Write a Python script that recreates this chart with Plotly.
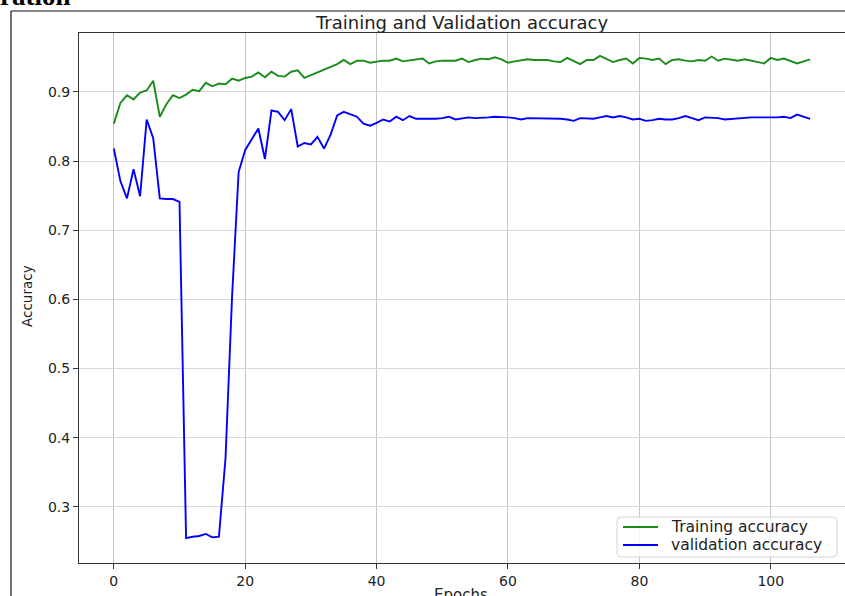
import plotly.graph_objects as go

# Per-epoch accuracy history of the training run
epochs = list(range(107))

train_acc = [
    0.854, 0.884, 0.895, 0.889, 0.899, 0.902, 0.916, 0.864, 0.882, 0.895,
    0.891, 0.896, 0.903, 0.901, 0.913, 0.908, 0.912, 0.911, 0.919, 0.916,
    0.920, 0.922, 0.928, 0.921, 0.929, 0.923, 0.922, 0.929, 0.931, 0.920,
    0.924, 0.928, 0.931, 0.936, 0.940, 0.946, 0.940, 0.945, 0.945, 0.942,
    0.944, 0.945, 0.945, 0.948, 0.944, 0.945, 0.946, 0.948, 0.941, 0.944,
    0.945, 0.945, 0.945, 0.948, 0.943, 0.946, 0.948, 0.947, 0.950, 0.947,
    0.942, 0.944, 0.945, 0.947, 0.946, 0.946, 0.946, 0.944, 0.943, 0.949,
    0.944, 0.940, 0.946, 0.946, 0.952, 0.947, 0.943, 0.946, 0.948, 0.941,
    0.949, 0.948, 0.946, 0.948, 0.940, 0.946, 0.947, 0.945, 0.944, 0.946,
    0.945, 0.951, 0.945, 0.948, 0.947, 0.945, 0.947, 0.945, 0.943, 0.941,
    0.949, 0.946, 0.948, 0.945, 0.941, 0.944, 0.947,
]

val_acc = [
    0.818, 0.771, 0.746, 0.788, 0.749, 0.860, 0.833, 0.746, 0.745, 0.745,
    0.741, 0.255, 0.257, 0.258, 0.261, 0.256, 0.257, 0.370, 0.604, 0.784,
    0.816, 0.832, 0.847, 0.803, 0.873, 0.871, 0.859, 0.875, 0.821, 0.826,
    0.824, 0.835, 0.818, 0.838, 0.866, 0.871, 0.868, 0.864, 0.854, 0.851,
    0.855, 0.860, 0.857, 0.864, 0.859, 0.865, 0.861, 0.861, 0.860, 0.861,
    0.862, 0.864, 0.860, 0.862, 0.863, 0.862, 0.862, 0.863, 0.864, 0.864,
    0.863, 0.862, 0.860, 0.862, 0.862, 0.862, 0.861, 0.861, 0.861, 0.860,
    0.858, 0.862, 0.861, 0.861, 0.863, 0.865, 0.863, 0.865, 0.863, 0.860,
    0.861, 0.858, 0.859, 0.861, 0.860, 0.860, 0.862, 0.865, 0.862, 0.859,
    0.863, 0.863, 0.862, 0.860, 0.861, 0.862, 0.863, 0.863, 0.863, 0.863,
    0.862, 0.863, 0.864, 0.862, 0.867, 0.864, 0.861,
]

series_names = ["Training accuracy", "validation accuracy"]
series_colors = ["#1a8c1a", "#0000ff"]

x_ticks = [0, 20, 40, 60, 80, 100]
y_ticks = [0.3, 0.4, 0.5, 0.6, 0.7, 0.8, 0.9]

FONT = "DejaVu Sans"
TXT = "#222222"

W, H = 845, 596
M_L, M_R, M_T, M_B = 79, 0, 33, 33
PW, PH = W - M_L - M_R, H - M_T - M_B


def px(xpix):
    """Horizontal pixel position -> paper coordinate."""
    return (xpix - M_L) / PW


def py(ypix):
    """Vertical pixel position (from top) -> paper coordinate."""
    return (H - M_B - ypix) / PH


fig = go.Figure()
for name, color, values in zip(series_names, series_colors, [train_acc, val_acc]):
    fig.add_trace(go.Scatter(
        x=epochs, y=values, mode="lines", name=name, showlegend=False,
        line=dict(color=color, width=1.9),
    ))

axis_common = dict(
    showline=True, linecolor="#333333", linewidth=1, mirror=True,
    ticks="outside", ticklen=5, tickwidth=1, tickcolor="#333333",
    tickfont=dict(family=FONT, size=14, color=TXT),
    showgrid=True, gridwidth=1, zeroline=False,
)

fig.update_layout(
    width=W, height=H,
    margin=dict(l=M_L, r=M_R, t=M_T, b=M_B),
    paper_bgcolor="white", plot_bgcolor="white",
    showlegend=False,
    xaxis=dict(range=[-5.3, 111.3], tickvals=x_ticks,
               ticktext=[str(v) for v in x_ticks],
               gridcolor="#c4c4c4", **axis_common),
    yaxis=dict(range=[0.219, 0.985], tickvals=y_ticks,
               ticktext=[f"{v:.1f}" for v in y_ticks],
               gridcolor="#d9d9d9", **axis_common),
)

# Titles placed as annotations for exact positioning
fig.add_annotation(
    text="Training and Validation accuracy", xref="paper", yref="paper",
    x=px(461), y=py(35), xanchor="center", yanchor="bottom", showarrow=False,
    font=dict(family=FONT, size=18, color=TXT),
)
fig.add_annotation(
    text="Accuracy", xref="paper", yref="paper",
    x=px(27), y=py(296), xanchor="center", yanchor="middle", textangle=-90,
    showarrow=False, font=dict(family=FONT, size=13.5, color=TXT),
)
fig.add_annotation(
    text="Epochs", xref="paper", yref="paper",
    x=px(461), y=py(584), xanchor="center", yanchor="top",
    showarrow=False, font=dict(family=FONT, size=15, color=TXT),
)

# Legend box with rounded corners, line samples and labels
bx0, bx1, by0, by1 = px(617), px(837), py(557), py(517)
rx, ry = 4 / PW, 4 / PH
box_path = (
    f"M {bx0+rx},{by1} L {bx1-rx},{by1} Q {bx1},{by1} {bx1},{by1-ry} "
    f"L {bx1},{by0+ry} Q {bx1},{by0} {bx1-rx},{by0} "
    f"L {bx0+rx},{by0} Q {bx0},{by0} {bx0},{by0+ry} "
    f"L {bx0},{by1-ry} Q {bx0},{by1} {bx0+rx},{by1} Z"
)
fig.add_shape(type="path", path=box_path, xref="paper", yref="paper",
              fillcolor="rgba(255,255,255,0.85)",
              line=dict(color="#d4d4d4", width=1))
for row_y, name, color in zip([527, 545], series_names, series_colors):
    fig.add_shape(type="line", xref="paper", yref="paper",
                  x0=px(623), x1=px(658), y0=py(row_y), y1=py(row_y),
                  line=dict(color=color, width=1.9))
    fig.add_annotation(
        text=name, xref="paper", yref="paper",
        x=px(669), y=py(row_y), xanchor="left", yanchor="middle",
        showarrow=False, font=dict(family=FONT, size=15.5, color=TXT),
    )

# Surrounding page fragment: frame and the tail of a heading above it
fig.add_shape(type="line", xref="paper", yref="paper",
              x0=px(11), x1=px(11), y0=py(11), y1=py(640),
              line=dict(color="#111111", width=1.2))
fig.add_shape(type="line", xref="paper", yref="paper",
              x0=px(11), x1=px(900), y0=py(11), y1=py(11),
              line=dict(color="#111111", width=1.2))
fig.add_annotation(
    text="<b>ration</b>", xref="paper", yref="paper",
    x=px(-2), y=py(13), xanchor="left", yanchor="bottom", showarrow=False,
    font=dict(family="Liberation Serif", size=27, color="#000000"),
)

fig.write_html("out.html")
